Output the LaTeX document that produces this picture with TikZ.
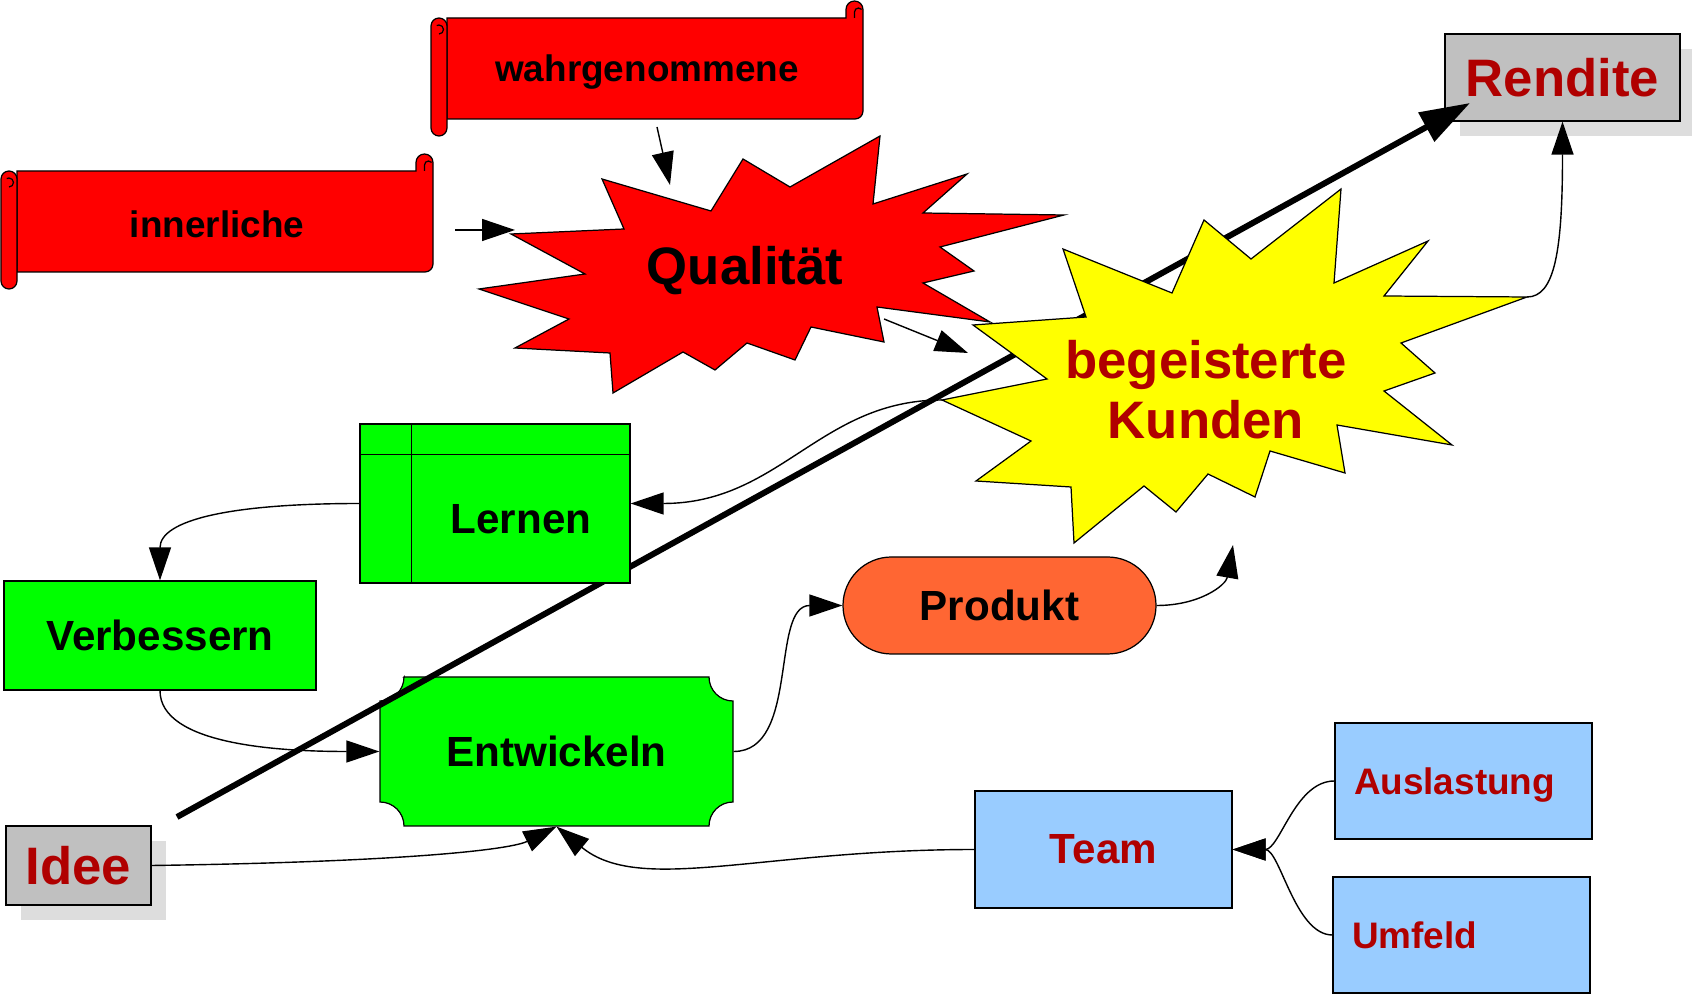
\documentclass[tikz,border=0pt]{standalone}
\usepackage{fontspec}
\setmainfont{Liberation Sans}
\usetikzlibrary{shapes.misc,arrows.meta,positioning,calc}
\definecolor{qred}{RGB}{255,0,0}
\definecolor{kyellow}{RGB}{255,255,0}
\definecolor{tred}{RGB}{176,0,0}
\definecolor{lgreen}{RGB}{0,255,0}
\definecolor{lblue}{RGB}{153,204,255}
\definecolor{porange}{RGB}{255,102,51}
\definecolor{bgray}{RGB}{192,192,192}
\definecolor{sgray}{RGB}{221,221,221}

\begin{document}
\begin{tikzpicture}[
    box/.style={draw, line width=0.35pt, inner sep=0pt,
                font=\fontsize{12}{14}\selectfont\bfseries},
    greenbox/.style={box, fill=lgreen},
    bluebox/.style={box, fill=lblue, text=tred, minimum width=2.57cm, minimum height=1.16cm,
                    font=\fontsize{10.5}{12}\selectfont\bfseries},
    graybox/.style={box, fill=bgray, text=tred, font=\fontsize{15}{17}\selectfont\bfseries},
    scrolltext/.style={font=\fontsize{10.5}{12}\selectfont\bfseries},
    startext/.style={font=\fontsize{15}{17}\selectfont\bfseries, align=center},
    star/.style={draw, line width=0.35pt},
    conn/.style={-{Triangle[length=0.33cm,width=0.22cm]}, line width=0.4pt},
    bigarrow/.style={-{Triangle[length=0.5cm,width=0.32cm]}, line width=1.7pt},
    scroll/.pic={
        \draw[fill=qred, line width=0.35pt] (0.16,-0.17) -- (4.15,-0.17) -- (4.15,-0.085)
            arc[start angle=180, end angle=0, radius=0.085] -- (4.32,-1.10)
            arc[start angle=0, end angle=-90, radius=0.08] -- (0.16,-1.18) -- cycle;
        \draw[line width=0.35pt] (4.235,-0.17) -- (4.235,-0.11) arc[start angle=180, end angle=40, radius=0.04];
        \draw[fill=qred, line width=0.35pt] (0,-0.25)
            arc[start angle=180, end angle=0, radius=0.08] -- (0.16,-1.27)
            arc[start angle=0, end angle=-180, radius=0.08] -- cycle;
        \draw[line width=0.35pt] (0.08,-0.33) arc[start angle=-90, end angle=120, radius=0.045];
    }
]
\useasboundingbox (0,0) rectangle (16.92,-9.94);

\fill[sgray] (14.60,-0.49) rectangle (16.95,-1.36);
\node[graybox, minimum width=2.35cm, minimum height=0.87cm] (rendite) at (15.625,-0.775) {Rendite};

\pic at (4.31,-0.01) {scroll};
\pic at (0.01,-1.54) {scroll};
\node[scrolltext] (wahr)  at (6.47,-0.72) {wahrgenommene};
\node[scrolltext] (inner) at (2.17,-2.24) {innerliche};

\draw[star, fill=qred] (5.11,-2.34) -- (6.24,-2.29) -- (6.02,-1.79) -- (7.11,-2.11) -- (7.43,-1.59)
    -- (7.90,-1.87) -- (8.80,-1.36) -- (8.73,-2.04) -- (9.67,-1.74) -- (9.23,-2.13) -- (10.64,-2.15)
    -- (9.40,-2.47) -- (9.74,-2.71) -- (9.23,-2.83) -- (9.90,-3.22) -- (8.77,-3.07) -- (8.84,-3.42)
    -- (8.11,-3.27) -- (7.95,-3.60) -- (7.47,-3.43) -- (7.15,-3.70) -- (6.83,-3.52) -- (6.13,-3.93)
    -- (6.10,-3.53) -- (5.15,-3.48) -- (5.69,-3.19) -- (4.79,-2.89) -- (5.85,-2.74) -- cycle;
\node[startext] (quali) at (7.45,-2.71) {Qualität};

\node[greenbox, minimum width=3.12cm, minimum height=1.09cm] (verb) at (1.60,-6.355) {Verbessern};

\draw[fill=lgreen, line width=0.35pt] (4.04,-6.77) -- (7.09,-6.77)
    arc[start angle=180, end angle=270, radius=0.24] -- (7.33,-8.02)
    arc[start angle=90, end angle=180, radius=0.24] -- (4.04,-8.26)
    arc[start angle=0, end angle=90, radius=0.24] -- (3.80,-7.01)
    arc[start angle=270, end angle=360, radius=0.24] -- cycle;
\node[box, draw=none, minimum width=3.53cm, minimum height=1.49cm] (entw) at (5.565,-7.515) {Entwickeln};

\coordinate (start) at (1.77,-8.17);
\coordinate (goal) at (14.70,-1.03);
\draw[bigarrow] (start) -- (goal);

\node[greenbox, minimum width=2.70cm, minimum height=1.59cm] (lernen) at (4.95,-5.035) {};
\draw[line width=0.35pt] ($(lernen.north west)+(0,-0.31)$) -- ($(lernen.north east)+(0,-0.31)$);
\draw[line width=0.35pt] ($(lernen.north west)+(0.52,0)$) -- ($(lernen.south west)+(0.52,0)$);
\node[box, draw=none] (lernentxt) at (5.21,-5.19) {Lernen};

\draw[star, fill=kyellow] (10.63,-2.49) -- (11.72,-2.93) -- (12.04,-2.20) -- (12.51,-2.59) -- (13.41,-1.89)
    -- (13.34,-2.83) -- (14.28,-2.41) -- (13.84,-2.96) -- (15.27,-2.97) -- (14.01,-3.43) -- (14.35,-3.73)
    -- (13.84,-3.91) -- (14.52,-4.45) -- (13.37,-4.25) -- (13.45,-4.73) -- (12.70,-4.51) -- (12.55,-4.97)
    -- (12.08,-4.74) -- (11.76,-5.12) -- (11.44,-4.86) -- (10.74,-5.43) -- (10.71,-4.87) -- (9.76,-4.81)
    -- (10.31,-4.41) -- (9.42,-4.00) -- (10.47,-3.79) -- (9.73,-3.25) -- (10.86,-3.17) -- cycle;
\node[startext, text=tred] (kunden) at (12.06,-3.90) {begeisterte\\Kunden};

\node[box, fill=porange, rounded rectangle, minimum width=3.13cm, minimum height=0.97cm] (prod) at (9.995,-6.055) {Produkt};

\fill[sgray] (0.21,-8.41) rectangle (1.66,-9.20);
\node[graybox, minimum width=1.45cm, minimum height=0.79cm] (idee) at (0.785,-8.655) {Idee};

\node[bluebox, font=\fontsize{12}{14}\selectfont\bfseries, minimum height=1.17cm] (team) at (11.035,-8.495) {Team};
\node[bluebox, inner xsep=0.19cm, text width=2.19cm, text depth=0pt, align=left] (ausl) at (14.635,-7.81) {Auslastung};
\node[bluebox, inner xsep=0.19cm, text width=2.19cm, align=left] (umf) at (14.615,-9.35) {Umfeld};

\coordinate (wahrS) at (6.57,-1.27);
\coordinate (qualiN) at (6.70,-1.85);
\coordinate (innerE) at (4.55,-2.30);
\coordinate (qualiW) at (5.15,-2.30);
\coordinate (qualiSE) at (8.84,-3.19);
\coordinate (kundenNW) at (9.68,-3.53);
\coordinate (kundenE) at (15.27,-2.97);
\coordinate (kundenW) at (9.42,-4.00);
\coordinate (kundenS) at (12.33,-5.45);

\draw[conn] (wahrS) -- (qualiN);
\draw[conn] (innerE) -- (qualiW);
\draw[conn] (qualiSE) -- (kundenNW);
\draw[conn] (kundenE) .. controls (15.55,-2.97) and (15.625,-2.50) .. (rendite.south);
\draw[conn] (kundenW) .. controls (8.20,-4.00) and (7.80,-5.035) .. (lernen.east);
\draw[conn] (lernen.west) .. controls (2.30,-5.035) and (1.60,-5.20) .. (verb.north);
\draw[conn] (verb.south) .. controls (1.60,-7.45) and (2.80,-7.515) .. (entw.west);
\draw[conn] (entw.east) .. controls (8.00,-7.515) and (7.70,-6.055) .. (prod.west);
\draw[conn] (prod.east) .. controls (12.00,-6.055) and (12.26,-5.85) .. (kundenS);
\draw[conn] (idee.east) .. controls (4.00,-8.62) and (5.10,-8.50) .. (entw.south);
\draw[conn] (team.west) .. controls (7.60,-8.495) and (6.40,-8.95) .. (entw.south);
\draw[conn] (ausl.west) .. controls (12.95,-7.81) and (12.80,-8.495) .. (team.east);
\draw[conn] (umf.west) .. controls (12.95,-9.35) and (12.80,-8.495) .. (team.east);
\end{tikzpicture}
\end{document}
